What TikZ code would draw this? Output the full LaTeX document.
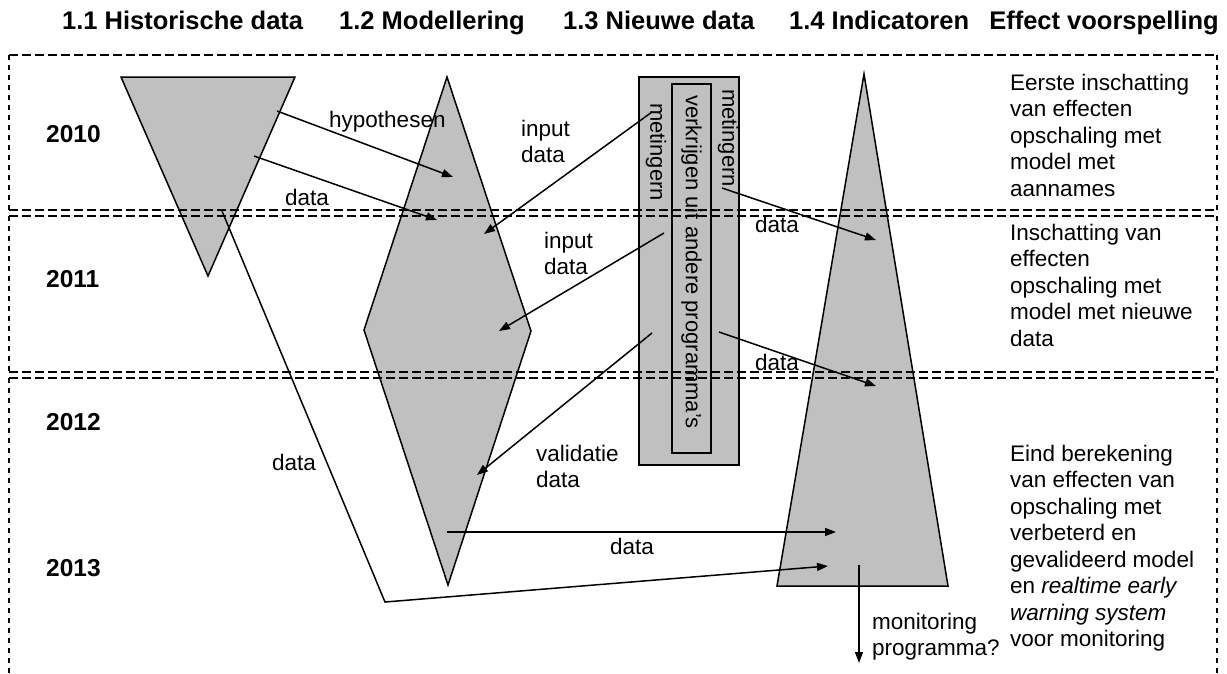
\documentclass[tikz,border=0pt]{standalone}
\usepackage{fontspec}
\setmainfont{Liberation Sans}
\usetikzlibrary{arrows.meta}
\definecolor{shapegray}{RGB}{192,192,192}
\newcommand{\mlines}[1]{\begin{tabular}[t]{@{}l@{}}#1\end{tabular}}
\begin{document}
\begin{tikzpicture}[x=1pt,y=-1pt,
  gshape/.style={draw=black, line width=1.5pt, fill=shapegray, line join=miter},
  gbox/.style={draw=black, line width=1.5pt, fill=shapegray, inner sep=0pt, outer sep=0pt},
  conn/.style={line width=1.5pt, -{Triangle[length=11pt,width=8pt]}},
  hdash/.style={line width=1.5pt, dash pattern=on 9pt off 4pt},
  vdash/.style={line width=1.5pt, dash pattern=on 5pt off 5pt},
  lbl/.style={font=\fontsize{22.5}{26.5}\selectfont, inner sep=0pt, anchor=base west},
  ttl/.style={font=\fontsize{25.5}{30}\selectfont\bfseries, inner sep=0pt, anchor=base west},
  yr/.style={font=\fontsize{24.5}{30}\selectfont\bfseries, inner sep=0pt, anchor=base west},
  vtext/.style={font=\fontsize{22}{26}\selectfont, inner sep=0pt, rotate=-90},
]
\useasboundingbox (0,0) rectangle (1227,673);

% ---- titles
\node[ttl] (h1) at (62,29) {1.1 Historische data};
\node[ttl] (h2) at (339,29) {1.2 Modellering};
\node[ttl] (h3) at (563,29) {1.3 Nieuwe data};
\node[ttl] (h4) at (789,29) {1.4 Indicatoren};
\node[ttl, anchor=base east] (h5) at (1219,29) {Effect voorspelling};

% ---- shapes
\coordinate (t1a) at (121,77);
\coordinate (t1b) at (295,77);
\coordinate (t1c) at (208,276);
\draw[gshape] (t1a) -- (t1b) -- (t1c) -- cycle;

\coordinate (d1) at (447,77);
\coordinate (d2) at (531,331);
\coordinate (d3) at (448,585);
\coordinate (d4) at (364,330);
\draw[gshape] (d1) -- (d2) -- (d3) -- (d4) -- cycle;

\node[gbox, minimum width=100pt, minimum height=388pt] (outer) at (689,271) {};
\node[gbox, minimum width=39pt, minimum height=369pt] (inner) at (691.5,268.5) {};
\node[vtext] (met1) at (656,152) {metingern};
\node[vtext] (verk) at (691.5,262) {verkrijgen uit andere programma’s};
\node[vtext] (met2) at (728,138) {metingern};

\coordinate (i1) at (864,74);
\coordinate (i2) at (948,586);
\coordinate (i3) at (777,586);
\draw[gshape] (i1) -- (i2) -- (i3) -- cycle;

% ---- dashed year boxes
\coordinate (b1tl) at (9,55);   \coordinate (b1tr) at (1217,55);
\coordinate (b1bl) at (9,210);  \coordinate (b1br) at (1217,210);
\coordinate (b2tl) at (9,216);  \coordinate (b2tr) at (1217,216);
\coordinate (b2bl) at (9,372);  \coordinate (b2br) at (1217,372);
\coordinate (b3tl) at (9,378);  \coordinate (b3tr) at (1217,378);
\coordinate (b3bl) at (9,673);  \coordinate (b3br) at (1217,673);
\draw[hdash] (b1tl) -- (b1tr);
\draw[hdash] (b1bl) -- (b1br);
\draw[vdash] (b1tl) -- (b1bl);
\draw[vdash] (b1tr) -- (b1br);
\draw[hdash] (b2tl) -- (b2tr);
\draw[hdash] (b2bl) -- (b2br);
\draw[vdash] (b2tl) -- (b2bl);
\draw[vdash] (b2tr) -- (b2br);
\draw[hdash] (b3tl) -- (b3tr);
\draw[vdash] (b3tl) -- (b3bl);
\draw[vdash] (b3tr) -- (b3br);

% ---- years
\node[yr] (y10) at (46,142) {2010};
\node[yr] (y11) at (46,287) {2011};
\node[yr] (y12) at (46,430) {2012};
\node[yr] (y13) at (46,576) {2013};

% ---- connector end points
\coordinate (hypS) at (277,111);  \coordinate (hypE) at (453,177);
\coordinate (dat1S) at (254,156); \coordinate (dat1E) at (437,220);
\coordinate (longS) at (222,211); \coordinate (longK) at (385,602); \coordinate (longE) at (828,566);
\coordinate (in1S) at (652,112);  \coordinate (in1E) at (484,234);
\coordinate (in2S) at (664,233);  \coordinate (in2E) at (499,331);
\coordinate (valS) at (652,333);  \coordinate (valE) at (477,475);
\coordinate (r1S) at (722,188);   \coordinate (r1E) at (876,240);
\coordinate (r2S) at (719,332);   \coordinate (r2E) at (876,386);
\coordinate (hzS) at (447,532);   \coordinate (hzE) at (836,532);
\coordinate (monS) at (859,565);  \coordinate (monE) at (859,663);

\draw[conn] (hypS) -- (hypE);
\draw[conn] (dat1S) -- (dat1E);
\draw[conn] (longS) -- (longK) -- (longE);
\draw[conn] (in1S) -- (in1E);
\draw[conn] (in2S) -- (in2E);
\draw[conn] (valS) -- (valE);
\draw[conn] (r1S) -- (r1E);
\draw[conn] (r2S) -- (r2E);
\draw[conn] (hzS) -- (hzE);
\draw[conn] (monS) -- (monE);

% ---- connector labels
\node[lbl] (lhyp) at (329,127) {hypothesen};
\node[lbl] (ldat1) at (285,205) {data};
\node[lbl] (llong) at (272,470) {data};
\node[lbl] (lin1) at (521,136) {\mlines{input\\data}};
\node[lbl] (lin2) at (544,248) {\mlines{input\\data}};
\node[lbl] (lval) at (536,461) {\mlines{validatie\\data}};
\node[lbl] (lr1) at (755,232) {data};
\node[lbl] (lr2) at (755,370) {data};
\node[lbl] (lhz) at (610,554) {data};
\node[lbl] (lmon) at (872,629) {\mlines{monitoring\\programma?}};

% ---- effect texts
\node[lbl] (e1) at (1010,90) {\mlines{Eerste inschatting\\van effecten\\opschaling met\\model met\\aannames}};
\node[lbl] (e2) at (1010,240) {\mlines{Inschatting van\\effecten\\opschaling met\\model met nieuwe\\data}};
\node[lbl] (e3) at (1010,461) {\mlines{Eind berekening\\van effecten van\\opschaling met\\verbeterd en\\gevalideerd model\\en \textit{realtime early}\\\textit{warning system}\\voor monitoring}};
\end{tikzpicture}
\end{document}
